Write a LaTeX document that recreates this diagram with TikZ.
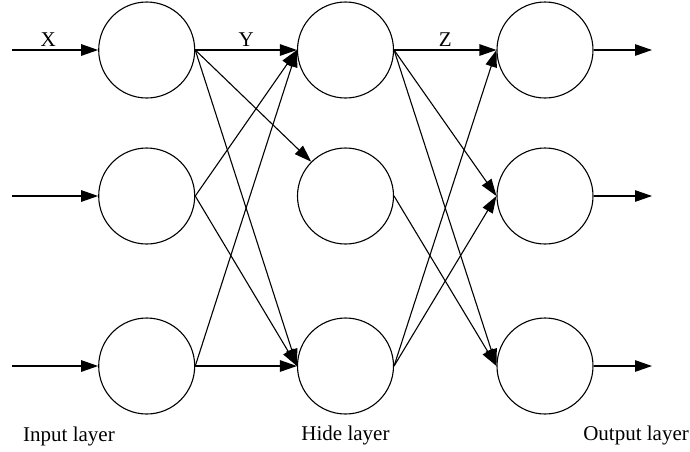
\documentclass[tikz,border=0pt]{standalone}
\usepackage{fontspec}
\setmainfont{Liberation Serif}
\usetikzlibrary{arrows.meta}

\begin{document}
\begin{tikzpicture}[x=1pt, y=-1pt,
    neuron/.style={draw, circle, minimum size=96pt, inner sep=0pt, line width=1.1pt},
    link/.style={line width=1.1pt, -{Triangle[length=17pt, width=11.5pt]}},
    every node/.append style={font=\fontsize{21}{25}\selectfont}]

    % 0. Khung hình (đơn vị 1pt, trục y hướng xuống)
    \useasboundingbox (0,0) rectangle (690,451);

    % 1. Các nơ-ron của lớp vào (I), lớp ẩn (H) và lớp ra (O)
    \node[neuron] (I1) at (146.7,50)  {};
    \node[neuron] (I2) at (146.7,196) {};
    \node[neuron] (I3) at (146.7,366) {};
    \node[neuron] (H1) at (345.5,50)  {};
    \node[neuron] (H2) at (345.5,196) {};
    \node[neuron] (H3) at (345.5,366) {};
    \node[neuron] (O1) at (545,50)  {};
    \node[neuron] (O2) at (545,196) {};
    \node[neuron] (O3) at (545,366) {};

    % 2. Điểm đầu của tín hiệu vào và điểm cuối của tín hiệu ra
    \coordinate (in1) at (12,50);
    \coordinate (in2) at (12,196);
    \coordinate (in3) at (12,366);
    \coordinate (out1) at (652,50);
    \coordinate (out2) at (652,196);
    \coordinate (out3) at (652,366);

    % 3. Mũi tên vào lớp vào (nhãn X)
    \draw[link] (in1) -- node[above, pos=0.42] {X} (I1);
    \draw[link] (in2) -- (I2);
    \draw[link] (in3) -- (I3);

    % 4. Liên kết lớp vào -> lớp ẩn (nhãn Y)
    \draw[link] (I1.east) -- node[above] {Y} (H1.west);
    \draw[link] (I1.east) -- (H2.north west);
    \draw[link] (I1.east) -- (H3.west);
    \draw[link] (I2.east) -- (H1.west);
    \draw[link] (I2.east) -- (H3.west);
    \draw[link] (I3.east) -- (H1.west);
    \draw[link] (I3.east) -- (H3.west);

    % 5. Liên kết lớp ẩn -> lớp ra (nhãn Z)
    \draw[link] (H1.east) -- node[above] {Z} (O1.west);
    \draw[link] (H1.east) -- (O2.west);
    \draw[link] (H1.east) -- (O3.west);
    \draw[link] (H2.east) -- (O3.west);
    \draw[link] (H3.east) -- (O1.west);
    \draw[link] (H3.east) -- (O2.west);

    % 6. Mũi tên ra khỏi lớp ra
    \draw[link] (O1) -- (out1);
    \draw[link] (O2) -- (out2);
    \draw[link] (O3) -- (out3);

    % 7. Tên các lớp
    \node[anchor=base, inner sep=0pt] (inputname) at (69,441) {Input layer};
    \node[anchor=base, inner sep=0pt] (hidename) at (345.5,440) {Hide layer};
    \node[anchor=base east, inner sep=0pt] (outputname) at (689,440) {Output layer};

\end{tikzpicture}
\end{document}
